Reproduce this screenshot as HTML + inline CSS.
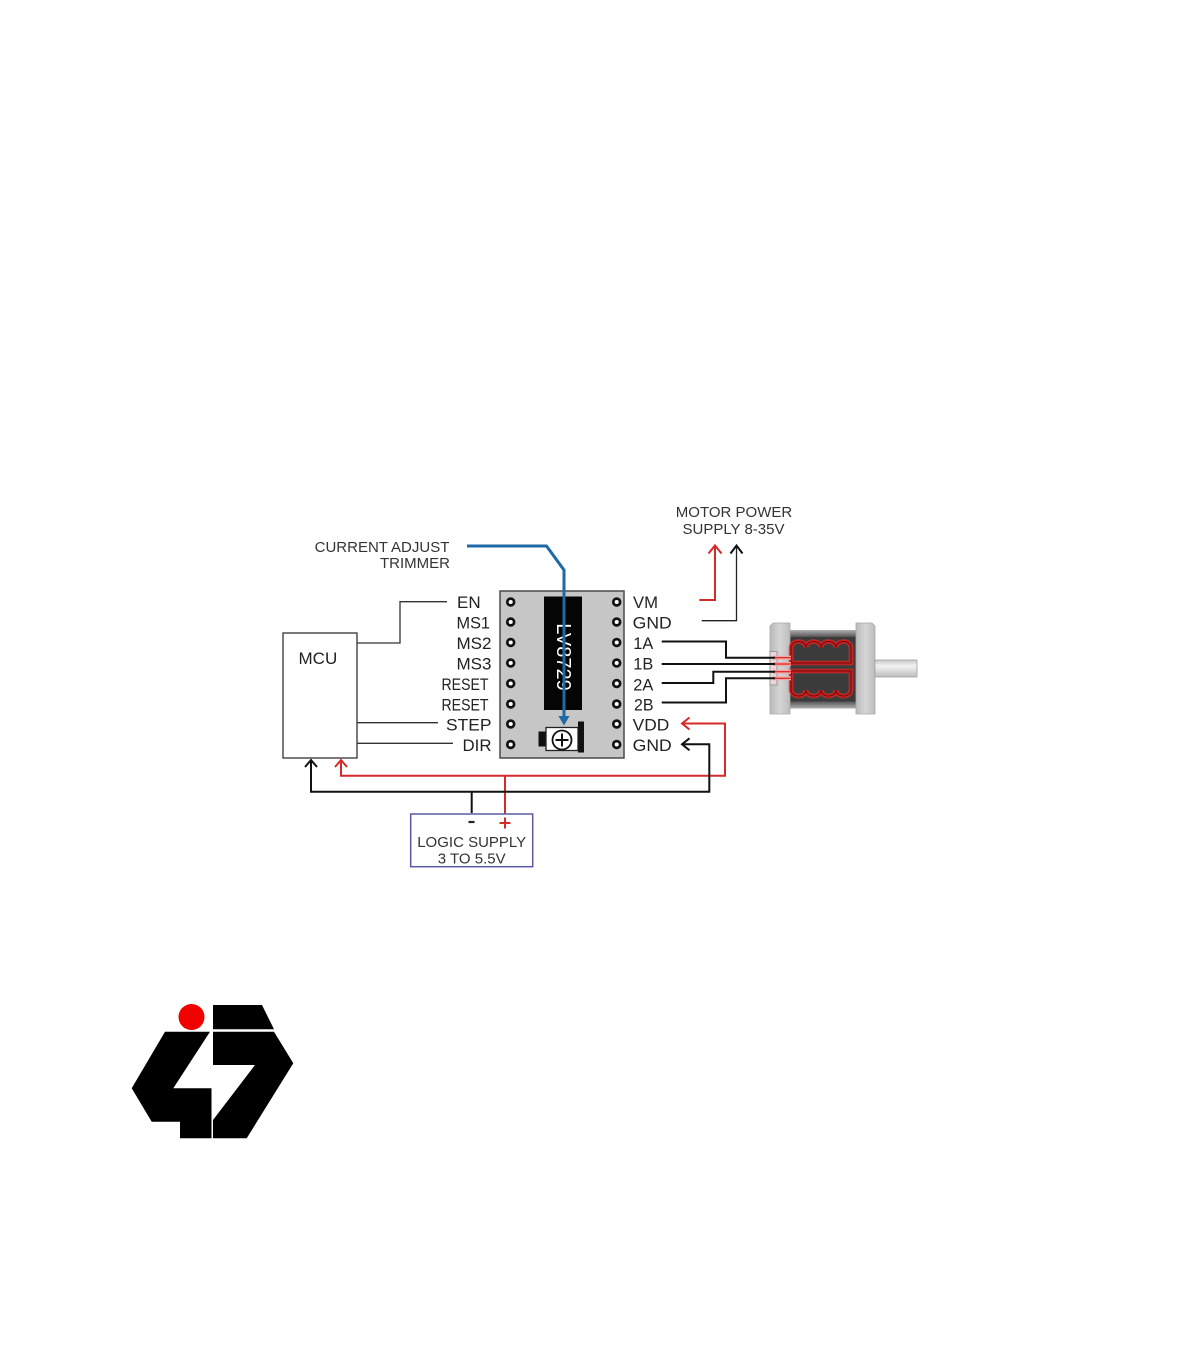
<!DOCTYPE html>
<html>
<head>
<meta charset="utf-8">
<style>
  html,body{margin:0;padding:0;background:#fff;}
  svg{display:block;}
  text{font-family:"Liberation Sans",Arial,sans-serif;}
</style>
</head>
<body>
<svg width="1200" height="1372" viewBox="0 0 1200 1372" xmlns="http://www.w3.org/2000/svg">
  <defs>
    <linearGradient id="flange" x1="0" y1="0" x2="1" y2="0">
      <stop offset="0" stop-color="#b9b9b9"/>
      <stop offset="0.5" stop-color="#d6d6d6"/>
      <stop offset="1" stop-color="#bcbcbc"/>
    </linearGradient>
    <linearGradient id="shaft" x1="0" y1="0" x2="0" y2="1">
      <stop offset="0" stop-color="#c8c8c8"/>
      <stop offset="0.35" stop-color="#f2f2f2"/>
      <stop offset="1" stop-color="#bdbdbd"/>
    </linearGradient>
    <linearGradient id="bodytop" x1="0" y1="0" x2="0" y2="1">
      <stop offset="0" stop-color="#b0b0b0"/>
      <stop offset="1" stop-color="#555"/>
    </linearGradient>
    <linearGradient id="bodybot" x1="0" y1="0" x2="0" y2="1">
      <stop offset="0" stop-color="#555"/>
      <stop offset="1" stop-color="#b0b0b0"/>
    </linearGradient>
  </defs>

  <!-- ===== Labels top ===== -->
  <text x="382" y="552" font-size="15" fill="#333" text-anchor="middle">CURRENT ADJUST</text>
  <text x="415" y="568" font-size="15" fill="#333" text-anchor="middle">TRIMMER</text>
  <text x="734" y="517" font-size="15" fill="#333" text-anchor="middle">MOTOR POWER</text>
  <text x="733.5" y="534" font-size="15" fill="#333" text-anchor="middle">SUPPLY 8-35V</text>

  <!-- ===== MCU ===== -->
  <rect x="283" y="633" width="74" height="125" fill="#fff" stroke="#333" stroke-width="1.3"/>
  <text x="298.5" y="664" font-size="17" fill="#222">MCU</text>

  <!-- MCU control lines -->
  <polyline points="357,643 400,643 400,601.7 447,601.7" fill="none" stroke="#333" stroke-width="1.3"/>
  <line x1="357" y1="722.7" x2="438" y2="722.7" stroke="#333" stroke-width="1.3"/>
  <line x1="357" y1="743.3" x2="453" y2="743.3" stroke="#333" stroke-width="1.3"/>

  <!-- Left pin labels -->
  <g font-size="17" fill="#222">
    <text x="457" y="608">EN</text>
    <text x="456.5" y="628.5" textLength="33.5" lengthAdjust="spacingAndGlyphs">MS1</text>
    <text x="456.5" y="649" textLength="35" lengthAdjust="spacingAndGlyphs">MS2</text>
    <text x="456.5" y="669.5" textLength="35" lengthAdjust="spacingAndGlyphs">MS3</text>
    <text x="441.5" y="690" textLength="47" lengthAdjust="spacingAndGlyphs">RESET</text>
    <text x="441.5" y="710.5" textLength="47" lengthAdjust="spacingAndGlyphs">RESET</text>
    <text x="446" y="730.5" textLength="45.5" lengthAdjust="spacingAndGlyphs">STEP</text>
    <text x="462.5" y="751" textLength="29" lengthAdjust="spacingAndGlyphs">DIR</text>
  </g>

  <!-- Right pin labels -->
  <g font-size="17" fill="#222">
    <text x="633" y="608" textLength="25" lengthAdjust="spacingAndGlyphs">VM</text>
    <text x="632.7" y="628.5" textLength="39" lengthAdjust="spacingAndGlyphs">GND</text>
    <text x="633.3" y="649" textLength="20" lengthAdjust="spacingAndGlyphs">1A</text>
    <text x="633.3" y="669.5" textLength="20" lengthAdjust="spacingAndGlyphs">1B</text>
    <text x="633.3" y="690.5" textLength="20" lengthAdjust="spacingAndGlyphs">2A</text>
    <text x="634" y="710.5" textLength="19.5" lengthAdjust="spacingAndGlyphs">2B</text>
    <text x="632.7" y="730.5" textLength="36.6" lengthAdjust="spacingAndGlyphs">VDD</text>
    <text x="632.7" y="751" textLength="39" lengthAdjust="spacingAndGlyphs">GND</text>
  </g>

  <!-- ===== Driver board ===== -->
  <rect x="500" y="591" width="124" height="167" fill="#c6c6c6" stroke="#4a4a4a" stroke-width="1.5"/>
  <!-- chip -->
  <rect x="544" y="596.5" width="38" height="113.5" fill="#050505"/>
  <text x="0" y="0" font-size="20" fill="#fff" text-anchor="middle" transform="translate(557,657) rotate(90)">LV8729</text>

  <!-- pins -->
  <g fill="#fff" stroke="#111" stroke-width="2.7">
    <circle cx="510.7" cy="602" r="3.4"/>
    <circle cx="510.7" cy="622" r="3.4"/>
    <circle cx="510.7" cy="642.5" r="3.4"/>
    <circle cx="510.7" cy="663" r="3.4"/>
    <circle cx="510.7" cy="683.5" r="3.4"/>
    <circle cx="510.7" cy="704" r="3.4"/>
    <circle cx="510.7" cy="724" r="3.4"/>
    <circle cx="510.7" cy="744.5" r="3.4"/>
    <circle cx="616.7" cy="602" r="3.4"/>
    <circle cx="616.7" cy="622" r="3.4"/>
    <circle cx="616.7" cy="642.5" r="3.4"/>
    <circle cx="616.7" cy="663" r="3.4"/>
    <circle cx="616.7" cy="683.5" r="3.4"/>
    <circle cx="616.7" cy="704" r="3.4"/>
    <circle cx="616.7" cy="724" r="3.4"/>
    <circle cx="616.7" cy="744.5" r="3.4"/>
  </g>

  <!-- trimmer -->
  <rect x="538.5" y="731.5" width="8" height="15" fill="#111"/>
  <rect x="578" y="721.5" width="6" height="31" fill="#111"/>
  <rect x="546" y="727.5" width="32" height="23" fill="#fff" stroke="#222" stroke-width="1.3"/>
  <circle cx="562" cy="740" r="9.5" fill="#fff" stroke="#111" stroke-width="1.8"/>
  <line x1="555.5" y1="740" x2="568.5" y2="740" stroke="#111" stroke-width="2"/>
  <line x1="562" y1="733.5" x2="562" y2="746.5" stroke="#111" stroke-width="2"/>

  <!-- blue pointer -->
  <polyline points="467,546 546.5,546 564,570 564,717" fill="none" stroke="#1f6aa6" stroke-width="3"/>
  <polygon points="558.5,716 569.5,716 564,725.5" fill="#1f6aa6"/>

  <!-- ===== Motor power arrows ===== -->
  <polyline points="699.3,600 715,600 715,546" fill="none" stroke="#d42a2a" stroke-width="2"/>
  <polyline points="708.5,553.5 715,545.5 721.5,553.5" fill="none" stroke="#d42a2a" stroke-width="2"/>
  <polyline points="701.7,620.7 736.5,620.7 736.5,546" fill="none" stroke="#222" stroke-width="1.3"/>
  <polyline points="730.5,553.5 736.5,545.5 742.5,553.5" fill="none" stroke="#111" stroke-width="2"/>

  <!-- ===== Motor ===== -->
  <rect x="789" y="630" width="68" height="78.5" fill="#3b3b3b"/>
  <rect x="789" y="630" width="68" height="7" fill="url(#bodytop)"/>
  <rect x="789" y="701.5" width="68" height="7" fill="url(#bodybot)"/>
  <path d="M773,623 H790 V714 H770 V626 Z" fill="url(#flange)" stroke="#a8a8a8" stroke-width="0.8"/>
  <path d="M856,623 H872 L875,626 V714 H856 Z" fill="url(#flange)" stroke="#a8a8a8" stroke-width="0.8"/>
  <rect x="875" y="660" width="42" height="17" fill="url(#shaft)" stroke="#a0a0a0" stroke-width="0.8"/>
  <rect x="770" y="651.5" width="7" height="33.5" fill="#ead6d6" stroke="#9a9a9a" stroke-width="1"/>

  <g fill="none" stroke="#e43a3a" stroke-width="5" stroke-opacity="0.45">
    <path d="M791,663 V647.5 a7.5,6 0 0 1 15,0 a7.5,6 0 0 1 15,0 a7.5,6 0 0 1 15,0 a7.5,6 0 0 1 15,0 V663 Z"/>
    <path d="M791,671 H851 V690 a7.5,6 0 0 1 -15,0 a7.5,6 0 0 1 -15,0 a7.5,6 0 0 1 -15,0 a7.5,6 0 0 1 -15,0 Z"/>
  </g>
  <g fill="none" stroke="#e01818" stroke-width="3.2">
    <path d="M791,663 V647.5 a7.5,6 0 0 1 15,0 a7.5,6 0 0 1 15,0 a7.5,6 0 0 1 15,0 a7.5,6 0 0 1 15,0 V663 Z"/>
    <path d="M791,671 H851 V690 a7.5,6 0 0 1 -15,0 a7.5,6 0 0 1 -15,0 a7.5,6 0 0 1 -15,0 a7.5,6 0 0 1 -15,0 Z"/>
  </g>
  <g fill="none" stroke="#5a1010" stroke-width="1">
    <path d="M791,663 V647.5 a7.5,6 0 0 1 15,0 a7.5,6 0 0 1 15,0 a7.5,6 0 0 1 15,0 a7.5,6 0 0 1 15,0 V663 Z"/>
    <path d="M791,671 H851 V690 a7.5,6 0 0 1 -15,0 a7.5,6 0 0 1 -15,0 a7.5,6 0 0 1 -15,0 a7.5,6 0 0 1 -15,0 Z"/>
  </g>
  <g stroke="#f3a5a5" stroke-width="4">
    <line x1="773" y1="657.7" x2="791" y2="657.7"/>
    <line x1="773" y1="664" x2="791" y2="664"/>
    <line x1="773" y1="671.7" x2="791" y2="671.7"/>
    <line x1="773" y1="678.3" x2="791" y2="678.3"/>
  </g>
  <g stroke="#e02020" stroke-width="1.2">
    <line x1="775" y1="657.7" x2="791" y2="657.7"/>
    <line x1="775" y1="664" x2="791" y2="664"/>
    <line x1="775" y1="671.7" x2="791" y2="671.7"/>
    <line x1="775" y1="678.3" x2="791" y2="678.3"/>
  </g>

  <!-- motor wires -->
  <g fill="none" stroke="#111" stroke-width="2">
    <polyline points="661.7,641.5 726,641.5 726,657.7 775,657.7"/>
    <polyline points="661.7,664 775,664"/>
    <polyline points="661.7,683 713.3,683 713.3,671.7 775,671.7"/>
    <polyline points="661.7,702.5 726,702.5 726,678.3 775,678.3"/>
  </g>

  <!-- ===== Logic supply buses ===== -->
  <polyline points="505,818 505,775.7" fill="none" stroke="#d42a2a" stroke-width="2"/>
  <polyline points="341,761 341,775.7 725,775.7 725,723.5 683,723.5" fill="none" stroke="#d42a2a" stroke-width="2"/>
  <polyline points="335,767 341,760 347,767" fill="none" stroke="#d42a2a" stroke-width="2"/>
  <polyline points="689.5,717.5 682,723.5 689.5,729.5" fill="none" stroke="#d42a2a" stroke-width="2"/>
  <polyline points="471.7,813 471.7,791.7" fill="none" stroke="#111" stroke-width="2"/>
  <polyline points="311,761 311,791.7 709.3,791.7 709.3,744.3 683,744.3" fill="none" stroke="#111" stroke-width="2"/>
  <polyline points="305,767 311,760 317,767" fill="none" stroke="#111" stroke-width="2"/>
  <polyline points="689.5,738.3 682,744.3 689.5,750.3" fill="none" stroke="#111" stroke-width="2"/>

  <rect x="410.7" y="814" width="122" height="52.7" fill="#fff" stroke="#5a5aa8" stroke-width="1.5"/>
  <line x1="468.5" y1="822" x2="474.5" y2="822" stroke="#222" stroke-width="2.2"/>
  <line x1="499.5" y1="823" x2="510.5" y2="823" stroke="#d42a2a" stroke-width="2"/>
  <line x1="505" y1="817.5" x2="505" y2="828.5" stroke="#d42a2a" stroke-width="2"/>
  <text x="471.7" y="847" font-size="15" fill="#333" text-anchor="middle">LOGIC SUPPLY</text>
  <text x="471.7" y="863.5" font-size="15" fill="#333" text-anchor="middle">3 TO 5.5V</text>

  <!-- ===== Logo ===== -->
  <circle cx="191.5" cy="1017" r="13" fill="#f00000"/>
  <polygon points="213,1005 262,1005 274,1029.3 213,1029.3" fill="#000"/>
  <polygon points="165,1031.7 210,1031.7 173.3,1088.3 211.5,1088.3 211.5,1138.3 180,1138.3 180,1121.7 151.7,1121.7 131.7,1088.3" fill="#000"/>
  <polygon points="213,1031.7 274,1031.7 293.3,1063.3 246.7,1138.3 213,1138.3 213,1120 255,1065 213,1065" fill="#000"/>
</svg>
</body>
</html>
